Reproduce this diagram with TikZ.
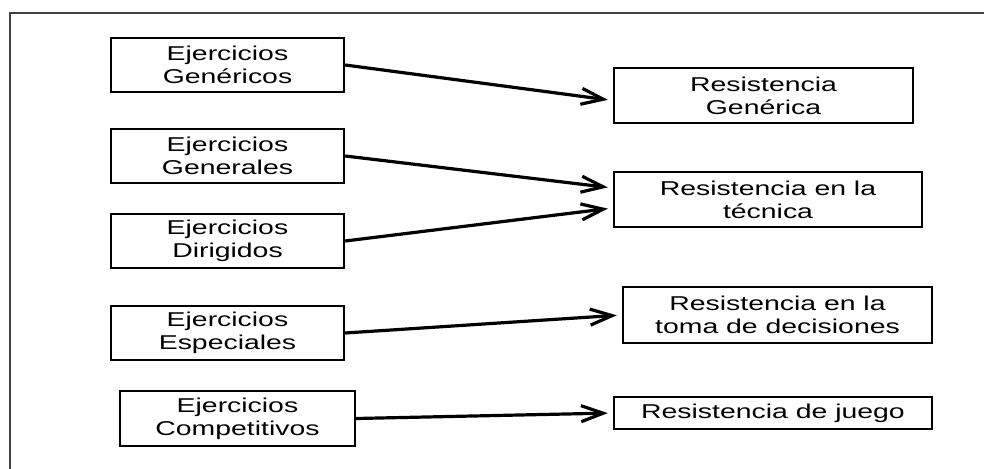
\documentclass[tikz,border=0pt]{standalone}
\usepackage{fontspec}
\setmainfont[FakeStretch=1.42]{Liberation Sans}
\usetikzlibrary{arrows.meta}

\begin{document}
\begin{tikzpicture}[x=1pt,y=-1pt,
    ejercicio/.style ={rectangle, draw, line width=2.4pt, align=center, inner sep=0pt,
                       minimum width=233pt, minimum height=54pt, font=\fontsize{20}{23}\selectfont},
    resistencia/.style ={ejercicio, minimum width=300pt, minimum height=55pt},
    flecha/.style ={line width=3.2pt, shorten >=5pt, -{Straight Barb[length=22pt,width=16pt]}}]
   \useasboundingbox (0,0) rectangle (984,468);
   \draw[line width=2pt, black!75] (10,470) -- (10,13.5) -- (986,13.5);
   % ejercicios
   \node[ejercicio] (gen)  at (227.5,65)  {Ejercicios\\Genéricos};
   \node[ejercicio] (gral) at (227.5,156) {Ejercicios\\Generales};
   \node[ejercicio] (dir)  at (227.5,241) {Ejercicios\\Dirigidos};
   \node[ejercicio] (esp)  at (227.5,333) {Ejercicios\\Especiales};
   \node[ejercicio, minimum width=235pt, minimum height=55pt] (comp) at (237.5,418.5) {Ejercicios\\Competitivos};
   % resistencias
   \node[resistencia, minimum width=299pt] (rgen)   at (763.5,95.5) {Resistencia\\Genérica};
   \node[resistencia, minimum width=308pt] (rtec)   at (768,199.5)  {Resistencia en la\\técnica};
   \node[resistencia, minimum width=309pt, minimum height=56pt] (rtoma) at (777.5,315) {Resistencia en la\\toma de decisiones};
   \node[resistencia, minimum width=318pt, minimum height=32pt] (rjuego) at (773,413) {Resistencia de juego};
   \draw[flecha] (gen.east) -- ([yshift=-5pt]rgen.west);
   \draw[flecha] (gral.east) -- ([yshift=11.5pt]rtec.west);
   \draw[flecha] (dir.east) -- ([yshift=-8.5pt]rtec.west);
   \draw[flecha] (esp.east) -- (rtoma.west);
   \draw[flecha] (comp.east) -- (rjuego.west);
 \end{tikzpicture}
\end{document}
